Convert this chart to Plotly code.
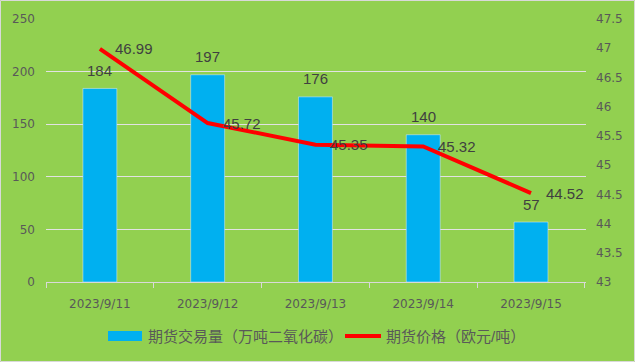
import plotly.graph_objects as go

dates = ["2023/9/11", "2023/9/12", "2023/9/13", "2023/9/14", "2023/9/15"]
volume = [184, 197, 176, 140, 57]
price = [46.99, 45.72, 45.35, 45.32, 44.52]
vol_name = "期货交易量（万吨二氧化碳）"
price_name = "期货价格（欧元/吨）"

FONT = "Liberation Sans, Noto Sans CJK SC, sans-serif"
TICKFONT = "DejaVu Sans, Noto Sans CJK SC, sans-serif"
GRAY = "#595959"
LABEL = "#404040"
BAR = "#00B0F0"
RED = "#FF0000"
L, R, T, B = 46, 49, 19, 80
W, H = 635, 362
pw, ph = W - L - R, H - T - B


def px_x(x):
    return (x - L) / pw


def px_y(y):
    return (H - B - y) / ph


fig = go.Figure()
fig.add_trace(go.Bar(x=dates, y=volume, name=vol_name, marker_color=BAR,
                     width=0.315, showlegend=False))
fig.add_trace(go.Scatter(x=dates, y=price, name=price_name, yaxis="y2", mode="lines",
                         line=dict(color=RED, width=4), showlegend=False))

annotations = []
for d, v in zip(dates, volume):
    annotations.append(dict(x=d, y=v, xref="x", yref="y", text=str(v), showarrow=False,
                            xanchor="center", yanchor="middle", yshift=18,
                            font=dict(size=15, color=LABEL, family=FONT)))
for d, p in zip(dates, price):
    annotations.append(dict(x=d, y=p, xref="x", yref="y2", text=f"{p:.2f}", showarrow=False,
                            xanchor="left", yanchor="middle", xshift=13,
                            font=dict(size=15, color=LABEL, family=FONT)))

# custom legend
leg_y = px_y(336)
annotations.append(dict(x=px_x(146), y=leg_y, xref="paper", yref="paper", text=vol_name,
                        showarrow=False, xanchor="left", yanchor="middle",
                        font=dict(size=15, color=GRAY, family=FONT)))
annotations.append(dict(x=px_x(384), y=leg_y, xref="paper", yref="paper", text=price_name,
                        showarrow=False, xanchor="left", yanchor="middle",
                        font=dict(size=15, color=GRAY, family=FONT)))

shapes = [
    dict(type="rect", xref="paper", yref="paper",
         x0=-L / pw + 0.5 / pw, x1=1 + R / pw - 0.5 / pw,
         y0=-B / ph + 0.5 / ph, y1=1 + T / ph - 0.5 / ph,
         line=dict(color="#D9D9D9", width=1), layer="below"),
    dict(type="rect", xref="paper", yref="paper",
         x0=px_x(108), x1=px_x(142), y0=px_y(341), y1=px_y(331),
         fillcolor=BAR, line=dict(width=0)),
    dict(type="line", xref="paper", yref="paper",
         x0=px_x(345), x1=px_x(381), y0=leg_y, y1=leg_y,
         line=dict(color=RED, width=4)),
]

fig.update_layout(
    width=W, height=H,
    margin=dict(l=L, r=R, t=T, b=B),
    paper_bgcolor="#92D050", plot_bgcolor="#92D050",
    font=dict(family=FONT, color=GRAY, size=13),
    showlegend=False,
    xaxis=dict(type="category", tickson="boundaries", ticks="outside", ticklen=5,
               tickcolor="#D9D9D9", showline=True, linecolor="#D9D9D9", linewidth=1,
               showgrid=False, tickfont=dict(size=12, color=GRAY, family=TICKFONT),
               ticklabelstandoff=11),
    yaxis=dict(range=[0, 250], dtick=50, showgrid=True, gridcolor="#E2E2E2", gridwidth=1,
               zeroline=False, showline=False, ticks="",
               tickfont=dict(size=12, color=GRAY, family=TICKFONT), ticklabelstandoff=10),
    yaxis2=dict(range=[43, 47.5], dtick=0.5, overlaying="y", side="right", showgrid=False,
                zeroline=False, showline=False, ticks="",
                tickfont=dict(size=12, color=GRAY, family=TICKFONT), ticklabelstandoff=9),
    annotations=annotations,
    shapes=shapes,
)

fig.write_html("out.html")
